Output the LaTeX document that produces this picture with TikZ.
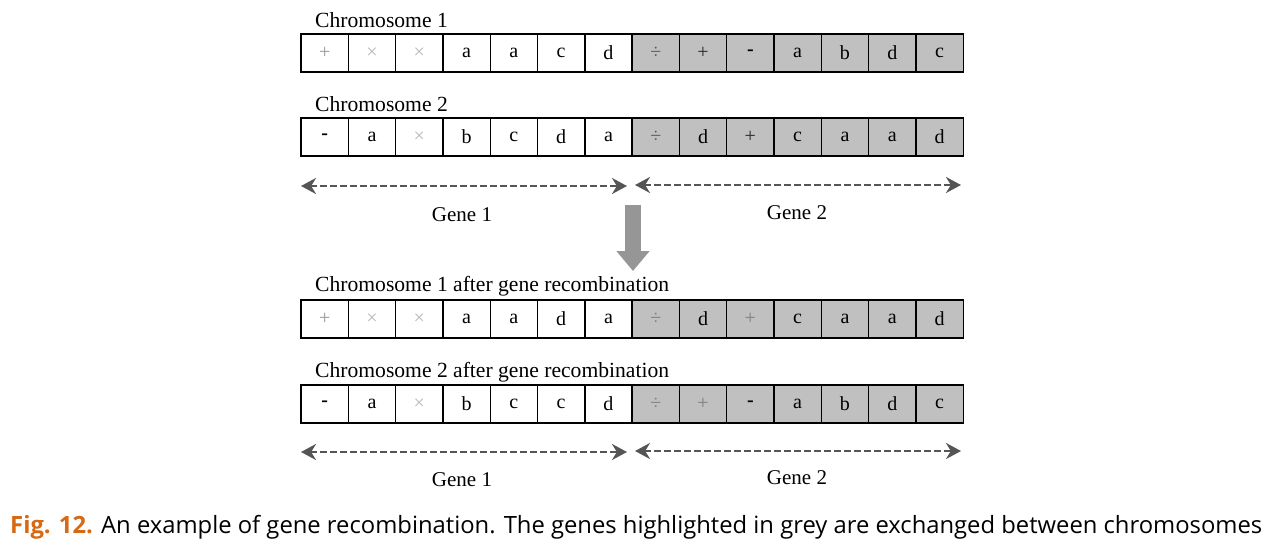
\documentclass[tikz,border=0pt]{standalone}
\usepackage{fontspec}
\setmainfont{Liberation Serif}
\newfontfamily\capfont{Open Sans}
\usepackage{tikz}
\usetikzlibrary{arrows.meta}
\definecolor{figorange}{RGB}{214,106,20}
\definecolor{boxgrey}{RGB}{192,192,192}
\definecolor{arrowgrey}{RGB}{85,85,85}
\definecolor{downgrey}{RGB}{150,150,150}
\tikzset{
  cell/.style={draw=black,line width=1.4pt,minimum width=47.3pt,minimum height=38pt,inner sep=0pt,font=\fontsize{20}{20}\selectfont},
  chromlabel/.style={anchor=base west,inner sep=0pt,font=\fontsize{21.6}{21.6}\selectfont},
  genelabel/.style={anchor=base,inner sep=0pt,font=\fontsize{21}{21}\selectfont},
  genearrow/.style={draw=arrowgrey,line width=2.4pt,dash pattern=on 7pt off 3pt,{Stealth[length=15pt,width=16pt]}-{Stealth[length=15pt,width=16pt]}}
}
\begin{document}
\begin{tikzpicture}[x=1pt,y=-1pt]
			\useasboundingbox (0,0) rectangle (1278,544);
			% chromosomes before and after recombination
			\foreach \t/\c [count=\i] in {+/gray!80,×/gray!55,×/gray!55,a/black,a/black,c/black,d/black,÷/black!65,+/black!85,\textbf{-}/black,a/black,b/black,d/black,c/black}
				\node[cell,text=\c,fill=\ifnum\i>7 boxgrey\else white\fi] (c1-\i) at ({301+47.3*(\i-0.5)},53) {\t};
			\foreach \t/\c [count=\i] in {\textbf{-}/black,a/black,×/gray!55,b/black,c/black,d/black,a/black,÷/black!65,d/black,+/black!85,c/black,a/black,a/black,d/black}
				\node[cell,text=\c,fill=\ifnum\i>7 boxgrey\else white\fi] (c2-\i) at ({301+47.3*(\i-0.5)},137) {\t};
			\foreach \t/\c [count=\i] in {+/gray!80,×/gray!55,×/gray!55,a/black,a/black,d/black,a/black,÷/black!50,d/black,+/black!50,c/black,a/black,a/black,d/black}
				\node[cell,text=\c,fill=\ifnum\i>7 boxgrey\else white\fi] (c3-\i) at ({301+47.3*(\i-0.5)},319) {\t};
			\foreach \t/\c [count=\i] in {\textbf{-}/black,a/black,×/gray!55,b/black,c/black,c/black,d/black,÷/black!50,+/black!50,\textbf{-}/black,a/black,b/black,d/black,c/black}
				\node[cell,text=\c,fill=\ifnum\i>7 boxgrey\else white\fi] (c4-\i) at ({301+47.3*(\i-0.5)},404) {\t};
			\node[chromlabel] (lab1) at (315,27) {Chromosome 1};
			\node[chromlabel] (lab2) at (315,111) {Chromosome 2};
			\node[chromlabel] (lab3) at (315,291) {Chromosome 1 after gene recombination};
			\node[chromlabel] (lab4) at (315,377) {Chromosome 2 after gene recombination};
			% gene spans
			\coordinate (g1a) at (301,186); \coordinate (g1b) at (627,186);
			\coordinate (g2a) at (635,185); \coordinate (g2b) at (961,185);
			\coordinate (g3a) at (301,452); \coordinate (g3b) at (627,452);
			\coordinate (g4a) at (635,451); \coordinate (g4b) at (961,451);
			\draw[genearrow] (g1a) -- (g1b);
			\draw[genearrow] (g2a) -- (g2b);
			\draw[genearrow] (g3a) -- (g3b);
			\draw[genearrow] (g4a) -- (g4b);
			\node[genelabel] (gene1) at (462,221) {Gene 1};
			\node[genelabel] (gene2) at (797,219) {Gene 2};
			\node[genelabel] (gene3) at (462,486) {Gene 1};
			\node[genelabel] (gene4) at (797,484) {Gene 2};
			% recombination arrow
			\coordinate (down1) at (633,205); \coordinate (down2) at (633,271);
			\draw[downgrey,line width=16pt,-{Triangle[length=20pt,width=32pt]}] (down1) -- (down2);
			% caption
			\node[anchor=base west,inner sep=0pt] (caption) at (10,533) {\resizebox{1252pt}{!}{\capfont\fontsize{24}{24}\selectfont\textcolor{figorange}{\textbf{Fig. 12.}} An example of gene recombination. The genes highlighted in grey are exchanged between chromosomes}};
		\end{tikzpicture}
\end{document}
